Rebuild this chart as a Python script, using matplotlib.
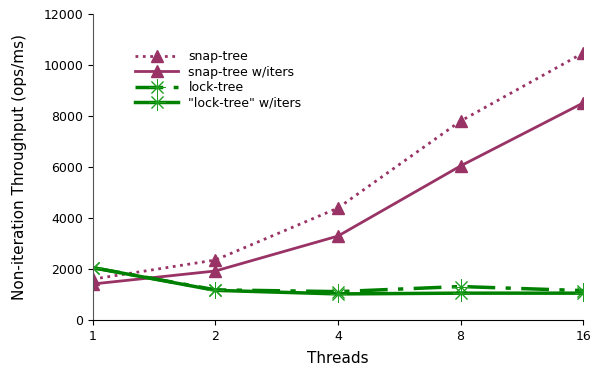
import matplotlib
matplotlib.use("Agg")
import matplotlib.pyplot as plt

threads = [1, 2, 4, 8, 16]
snap_tree = [1600, 2350, 4390, 7800, 10470]
snap_tree_iters = [1410, 1920, 3290, 6040, 8510]
lock_tree = [2050, 1180, 1110, 1310, 1150]
lock_tree_iters = [2050, 1160, 1020, 1050, 1050]

purple = "#993366"
green = "#008000"
marker_green = "#1f9f1f"

fig = plt.figure(figsize=(5.95, 3.69), dpi=100)
ax = fig.add_axes([0.156, 0.133, 0.824, 0.829])

ax.plot(threads, snap_tree, color=purple, linestyle=":", linewidth=2, marker="^", markersize=9, label="snap-tree")
ax.plot(threads, snap_tree_iters, color=purple, linestyle="-", linewidth=2, marker="^", markersize=9, label="snap-tree w/iters")
ax.plot(threads, lock_tree, color=green, linestyle="-.", dashes=(8, 3, 1.5, 3), linewidth=2.5, marker=(8, 2, 0), markersize=12,
        markeredgewidth=0.7, markeredgecolor=marker_green, label="lock-tree")
ax.plot(threads, lock_tree_iters, color=green, linestyle="-", linewidth=2.5, marker=(8, 2, 0), markersize=12,
        markeredgewidth=0.7, markeredgecolor=marker_green, label="\"lock-tree\" w/iters")

ax.set_xscale("log", base=2)
ax.set_xlim(1, 16)
ax.set_ylim(0, 12000)
ax.set_xticks(threads)
ax.set_xticklabels([str(t) for t in threads])
ax.minorticks_off()
ax.set_yticks(range(0, 12001, 2000))
ax.spines["top"].set_visible(False)
ax.spines["right"].set_visible(False)
ax.spines["left"].set_color("#555555")
ax.tick_params(labelsize=9)
ax.set_xlabel("Threads", fontsize=11, labelpad=6)
ax.set_ylabel("Non-iteration Throughput (ops/ms)", fontsize=11, labelpad=12)
ax.legend(loc="upper left", bbox_to_anchor=(0.065, 0.915), frameon=False, fontsize=9,
          handlelength=3.5, labelspacing=0.2, borderpad=0.3)

fig.savefig("out.png", dpi=100)
